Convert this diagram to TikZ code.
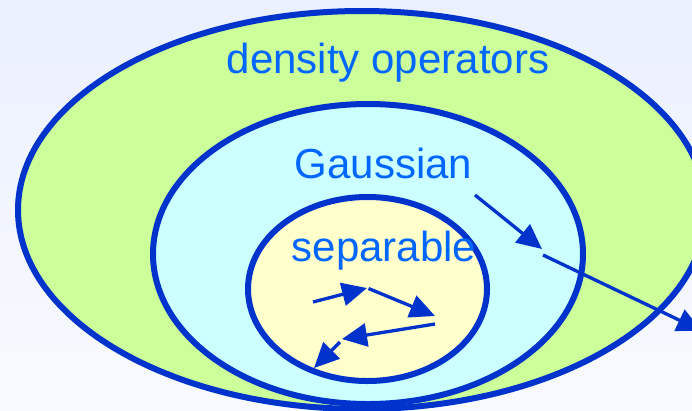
\documentclass[tikz,border=0pt]{standalone}
\usepackage{fontspec}
\setmainfont{Liberation Sans}
\usetikzlibrary{arrows.meta}
\definecolor{strokeblue}{RGB}{0,51,204}
\definecolor{textblue}{RGB}{0,102,255}
\definecolor{fillgreen}{RGB}{204,255,153}
\definecolor{fillcyan}{RGB}{204,255,255}
\definecolor{fillyellow}{RGB}{255,255,204}
\definecolor{bgtop}{RGB}{234,240,254}
\definecolor{bgbot}{RGB}{249,250,255}
\begin{document}
\begin{tikzpicture}[x=1pt,y=-1pt,
  setshape/.style={draw=strokeblue,line width=6pt},
  setlabel/.style={text=textblue,font=\fontsize{42}{50}\selectfont,anchor=base,inner sep=0pt},
  flow/.style={draw=strokeblue,line width=3.3pt,-{Triangle[length=25pt,width=23pt]}}]
\useasboundingbox (0,0) rectangle (692,410);
\shade[top color=bgtop,bottom color=bgbot] (0,0) rectangle (692,410);
\clip (0,0) rectangle (692,410);
% nested sets
\draw[setshape,fill=fillgreen] (362,210) ellipse [x radius=344, y radius=199];
\draw[setshape,fill=fillcyan] (368,254) ellipse [x radius=215, y radius=150];
\draw[setshape,fill=fillyellow] (367.5,289) ellipse [x radius=119.5, y radius=92];
% labels
\node[setlabel] (dens) at (388,73.5) {density operators};
\node[setlabel] (gauss) at (383.5,178) {Gaussian};
\node[setlabel] (sep) at (384,261) {separable};
% arrow end points
\coordinate (s1) at (313,302);
\coordinate (s2) at (367,288);
\coordinate (s2b) at (368.5,288.5);
\coordinate (s3) at (435,316);
\coordinate (s3b) at (435,324);
\coordinate (s4) at (342,339);
\coordinate (s4b) at (340,342);
\coordinate (s5) at (314,368);
\coordinate (g1) at (475,195);
\coordinate (g2) at (542,249);
\coordinate (g2b) at (543,255);
\coordinate (g3) at (702,331);
% arrows
\draw[flow] (s1) -- (s2);
\draw[flow] (s2b) -- (s3);
\draw[flow] (s3b) -- (s4);
\draw[flow] (s4b) -- (s5);
\draw[flow] (g1) -- (g2);
\draw[flow] (g2b) -- (g3);
\end{tikzpicture}
\end{document}
